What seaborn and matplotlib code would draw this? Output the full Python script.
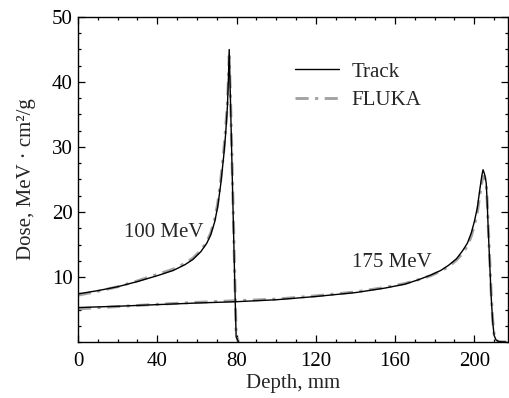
"""
Depth-dose curves: Track vs FLUKA for 100 and 175 MeV beams
"""

import matplotlib
matplotlib.use('Agg')
import matplotlib.pyplot as plt
from matplotlib.ticker import MultipleLocator
import seaborn as sns
import pandas as pd

# 100 MeV beam
depth_100 = [0, 10, 20, 30, 40, 48, 54, 58, 62, 65, 67, 69, 70.5, 72, 73.5, 74.5,
             75.4, 75.9, 76.3, 77, 78, 79, 79.8, 81]
track_100 = [7.4, 7.9, 8.5, 9.3, 10.2, 11.0, 11.9, 12.7, 13.9, 15.2, 16.5, 18.5, 20.8,
             24.2, 28.5, 32.0, 36.2, 40.5, 45.0, 36.5, 23.5, 10.5, 0.8, 0.0]
fluka_100 = [7.2, 7.8, 8.5, 9.4, 10.4, 11.2, 12.1, 12.9, 14.1, 15.4, 16.8, 18.9, 21.3,
             24.8, 29.2, 32.8, 36.8, 40.4, 44.0, 37.2, 24.6, 11.6, 1.2, 0.0]

# 175 MeV beam
depth_175 = [0, 20, 40, 60, 80, 100, 120, 140, 155, 165, 172, 178, 183, 187, 191, 194,
             196.5, 198.5, 200, 201.5, 202.8, 203.8, 204.4, 205.2, 206, 206.5, 207,
             207.7, 208.5, 209.3, 210, 211, 212.5, 216]
track_175 = [5.3, 5.5, 5.75, 6.0, 6.2, 6.5, 7.0, 7.6, 8.3, 8.9, 9.6, 10.3, 11.0, 11.8,
             12.8, 14.0, 15.2, 16.8, 18.5, 20.6, 23.5, 25.6, 26.5, 25.8, 24.5, 21.5,
             17.5, 12.6, 7.0, 3.0, 1.0, 0.3, 0.05, 0.0]
fluka_175 = [5.1, 5.45, 5.8, 6.1, 6.35, 6.6, 7.1, 7.7, 8.4, 9.0, 9.6, 10.2, 10.9,
             11.6, 12.6, 13.6, 14.8, 16.3, 17.9, 19.9, 22.6, 24.6, 25.5, 25.4, 24.4,
             21.8, 18.0, 13.2, 7.6, 3.3, 1.2, 0.3, 0.05, 0.0]

frames = []
for code, d100, d175 in [('Track', track_100, track_175), ('FLUKA', fluka_100, fluka_175)]:
    frames.append(pd.DataFrame({'depth': depth_100, 'dose': d100, 'code': code, 'energy': '100 MeV'}))
    frames.append(pd.DataFrame({'depth': depth_175, 'dose': d175, 'code': code, 'energy': '175 MeV'}))
df = pd.concat(frames, ignore_index=True)

sns.set_style('ticks')
plt.rcParams['font.family'] = ['Liberation Serif', 'DejaVu Serif']
plt.rcParams['font.size'] = 15

fig = plt.figure(figsize=(5.09, 3.98), dpi=100)
ax = fig.add_axes([78 / 509, 56 / 398, 430 / 509, 325 / 398])

# gray FLUKA underneath, thin black Track on top
sns.lineplot(data=df[df['code'] == 'Track'], x='depth', y='dose', units='energy',
             estimator=None, sort=False, color='black', linewidth=1.0, ax=ax,
             label='Track', zorder=3)
sns.lineplot(data=df[df['code'] == 'FLUKA'], x='depth', y='dose', units='energy',
             estimator=None, sort=False, color='#a3a3a3', linewidth=2.1,
             linestyle=(0, (4.5, 2.2, 1.1, 2.2)), ax=ax, label='FLUKA', zorder=2)

ax.set_xlim(0, 217)
ax.set_ylim(0, 50)
ax.xaxis.set_major_locator(MultipleLocator(40))
ax.xaxis.set_minor_locator(MultipleLocator(10))
ax.yaxis.set_major_locator(MultipleLocator(10))
ax.yaxis.set_minor_locator(MultipleLocator(2.5))
ax.set_yticks([10, 20, 30, 40, 50])
ax.tick_params(which='both', direction='in', top=True, right=True, colors='black',
               labelsize=15, width=0.9)
ax.tick_params(which='major', length=5)
ax.tick_params(which='minor', length=2.5)
ax.tick_params(axis='x', which='major', pad=7.5)
ax.tick_params(axis='y', which='major', pad=4)
for s in ax.spines.values():
    s.set_color('black')
    s.set_linewidth(1.0)

ax.set_xlabel('Depth, mm', fontsize=15, labelpad=2)
ax.set_ylabel('Dose, MeV · cm²/g', fontsize=15, labelpad=11)

ax.text(43.5, 16.9, '100 MeV', fontsize=15, ha='center', va='center')
ax.text(158.5, 12.2, '175 MeV', fontsize=15, ha='center', va='center')

# one legend entry per code (lineplot adds one per unit)
handles, labels = ax.get_legend_handles_labels()
seen = {}
for h, l in zip(handles, labels):
    seen.setdefault(l, h)
ax.legend(list(seen.values()), list(seen.keys()), loc='upper left',
          bbox_to_anchor=((295 - 78) / 430, (342 - 62) / 325),
          frameon=False, fontsize=15, handlelength=2.1, handletextpad=0.6,
          labelspacing=0.42, borderpad=0, borderaxespad=0)

plt.savefig('out.png', dpi=100)
